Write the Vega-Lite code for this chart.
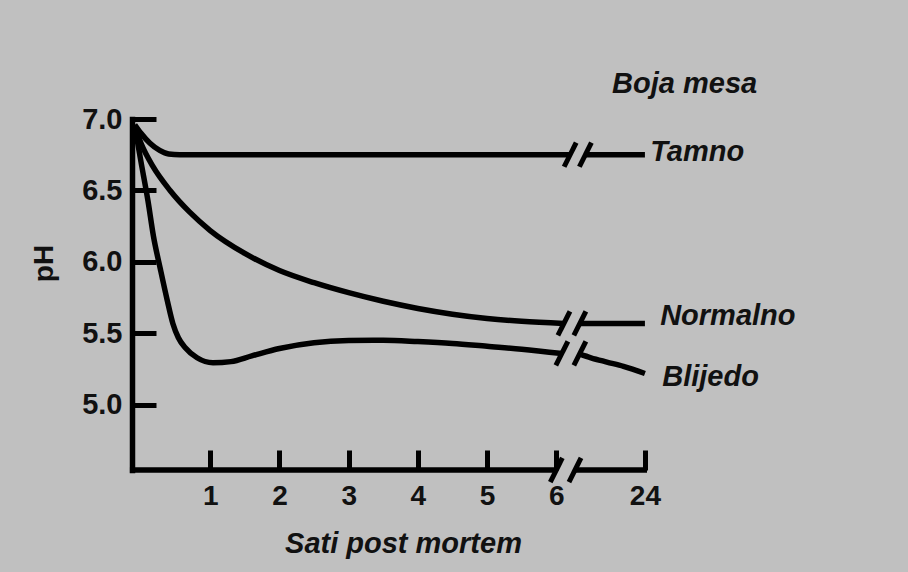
{
  "$schema": "https://vega.github.io/schema/vega-lite/v6.json",
  "width": 515,
  "height": 351,
  "autosize": {"type": "none"},
  "padding": {"left": 132, "top": 119, "right": 261, "bottom": 102},
  "background": "#c0c0c0",
  "config": {"view": {"stroke": null}},
  "datasets": {
    "curves": [
      {"series": "Tamno", "seg": "Tamno-a", "x": -0.09, "y": 6.96},
      {"series": "Tamno", "seg": "Tamno-a", "x": 0.0, "y": 6.9},
      {"series": "Tamno", "seg": "Tamno-a", "x": 0.13, "y": 6.83},
      {"series": "Tamno", "seg": "Tamno-a", "x": 0.27, "y": 6.78},
      {"series": "Tamno", "seg": "Tamno-a", "x": 0.4, "y": 6.755},
      {"series": "Tamno", "seg": "Tamno-a", "x": 0.56, "y": 6.75},
      {"series": "Tamno", "seg": "Tamno-a", "x": 1.0, "y": 6.75},
      {"series": "Tamno", "seg": "Tamno-a", "x": 6.2, "y": 6.75},
      {"series": "Tamno", "seg": "Tamno-b", "x": 6.42, "y": 6.75},
      {"series": "Tamno", "seg": "Tamno-b", "x": 7.28, "y": 6.75},
      {"series": "Normalno", "seg": "Normalno-a", "x": -0.09, "y": 6.95},
      {"series": "Normalno", "seg": "Normalno-a", "x": 0.0, "y": 6.83},
      {"series": "Normalno", "seg": "Normalno-a", "x": 0.17, "y": 6.67},
      {"series": "Normalno", "seg": "Normalno-a", "x": 0.42, "y": 6.5},
      {"series": "Normalno", "seg": "Normalno-a", "x": 0.7, "y": 6.35},
      {"series": "Normalno", "seg": "Normalno-a", "x": 1.0, "y": 6.22},
      {"series": "Normalno", "seg": "Normalno-a", "x": 1.5, "y": 6.06},
      {"series": "Normalno", "seg": "Normalno-a", "x": 2.0, "y": 5.94},
      {"series": "Normalno", "seg": "Normalno-a", "x": 2.5, "y": 5.855},
      {"series": "Normalno", "seg": "Normalno-a", "x": 3.0, "y": 5.785},
      {"series": "Normalno", "seg": "Normalno-a", "x": 3.5, "y": 5.725},
      {"series": "Normalno", "seg": "Normalno-a", "x": 4.0, "y": 5.675},
      {"series": "Normalno", "seg": "Normalno-a", "x": 4.5, "y": 5.635},
      {"series": "Normalno", "seg": "Normalno-a", "x": 5.0, "y": 5.605},
      {"series": "Normalno", "seg": "Normalno-a", "x": 5.5, "y": 5.585},
      {"series": "Normalno", "seg": "Normalno-a", "x": 6.11, "y": 5.57},
      {"series": "Normalno", "seg": "Normalno-b", "x": 6.34, "y": 5.57},
      {"series": "Normalno", "seg": "Normalno-b", "x": 7.28, "y": 5.57},
      {"series": "Blijedo", "seg": "Blijedo-a", "x": -0.09, "y": 6.95},
      {"series": "Blijedo", "seg": "Blijedo-a", "x": 0.0, "y": 6.7},
      {"series": "Blijedo", "seg": "Blijedo-a", "x": 0.1, "y": 6.43},
      {"series": "Blijedo", "seg": "Blijedo-a", "x": 0.18, "y": 6.18},
      {"series": "Blijedo", "seg": "Blijedo-a", "x": 0.28, "y": 5.95},
      {"series": "Blijedo", "seg": "Blijedo-a", "x": 0.38, "y": 5.73},
      {"series": "Blijedo", "seg": "Blijedo-a", "x": 0.46, "y": 5.57},
      {"series": "Blijedo", "seg": "Blijedo-a", "x": 0.54, "y": 5.47},
      {"series": "Blijedo", "seg": "Blijedo-a", "x": 0.64, "y": 5.4},
      {"series": "Blijedo", "seg": "Blijedo-a", "x": 0.81, "y": 5.33},
      {"series": "Blijedo", "seg": "Blijedo-a", "x": 1.04, "y": 5.295},
      {"series": "Blijedo", "seg": "Blijedo-a", "x": 1.3, "y": 5.303},
      {"series": "Blijedo", "seg": "Blijedo-a", "x": 1.6, "y": 5.343},
      {"series": "Blijedo", "seg": "Blijedo-a", "x": 2.0, "y": 5.395},
      {"series": "Blijedo", "seg": "Blijedo-a", "x": 2.5, "y": 5.435},
      {"series": "Blijedo", "seg": "Blijedo-a", "x": 3.0, "y": 5.45},
      {"series": "Blijedo", "seg": "Blijedo-a", "x": 3.5, "y": 5.452},
      {"series": "Blijedo", "seg": "Blijedo-a", "x": 4.0, "y": 5.443},
      {"series": "Blijedo", "seg": "Blijedo-a", "x": 4.5, "y": 5.43},
      {"series": "Blijedo", "seg": "Blijedo-a", "x": 5.0, "y": 5.41},
      {"series": "Blijedo", "seg": "Blijedo-a", "x": 5.5, "y": 5.39},
      {"series": "Blijedo", "seg": "Blijedo-a", "x": 6.08, "y": 5.36},
      {"series": "Blijedo", "seg": "Blijedo-b", "x": 6.34, "y": 5.355},
      {"series": "Blijedo", "seg": "Blijedo-b", "x": 6.5, "y": 5.33},
      {"series": "Blijedo", "seg": "Blijedo-b", "x": 6.73, "y": 5.3},
      {"series": "Blijedo", "seg": "Blijedo-b", "x": 6.97, "y": 5.27},
      {"series": "Blijedo", "seg": "Blijedo-b", "x": 7.28, "y": 5.22}
    ],
    "axisline": [
      {"x": -0.16, "x2": 6.0, "y": 4.545},
      {"x": 6.27, "x2": 7.31, "y": 4.545}
    ],
    "breaks": [
      {"x": 6.113, "x2": 6.287, "y": 6.666, "y2": 6.834},
      {"x": 6.333, "x2": 6.507, "y": 6.666, "y2": 6.834},
      {"x": 6.023, "x2": 6.197, "y": 5.486, "y2": 5.654},
      {"x": 6.253, "x2": 6.427, "y": 5.486, "y2": 5.654},
      {"x": 5.993, "x2": 6.167, "y": 5.276, "y2": 5.444},
      {"x": 6.253, "x2": 6.427, "y": 5.276, "y2": 5.444},
      {"x": 5.913, "x2": 6.087, "y": 4.461, "y2": 4.629},
      {"x": 6.183, "x2": 6.357, "y": 4.461, "y2": 4.629}
    ],
    "labels": [
      {"text": "Boja mesa", "x": 6.806, "y": 7.245},
      {"text": "Tamno", "x": 7.356, "y": 6.77},
      {"text": "Normalno", "x": 7.5, "y": 5.62},
      {"text": "Blijedo", "x": 7.53, "y": 5.196}
    ]
  },
  "layer": [
    {
      "data": {"name": "curves"},
      "mark": {"type": "line", "color": "black", "strokeWidth": 5.5, "interpolate": "monotone", "strokeCap": "butt"},
      "encoding": {
        "x": {
          "field": "x", "type": "quantitative",
          "scale": {"domain": [-0.13, 7.31], "nice": false, "zero": false},
          "axis": {
            "values": [1, 2, 3, 4, 5, 6, 7.28],
            "labelExpr": "datum.value > 7 ? '24' : format(datum.value, 'd')",
            "domain": false,
            "grid": false,
            "tickSize": -20,
            "tickWidth": 5,
            "tickColor": "black",
            "labelFont": "Liberation Sans",
            "labelFontSize": 28,
            "labelFontWeight": "bold",
            "labelColor": "#111111",
            "labelPadding": 32,
            "labelFlush": false,
            "labelOverlap": false,
            "title": "Sati post mortem",
            "titleFont": "Liberation Sans",
            "titleFontSize": 29,
            "titleFontStyle": "italic",
            "titleFontWeight": "bold",
            "titleColor": "#111111",
            "titleX": 271,
            "titleY": 73,
            "titleAlign": "center",
            "titleBaseline": "middle"
          }
        },
        "y": {
          "field": "y", "type": "quantitative",
          "scale": {"domain": [4.545, 7.0], "nice": false, "zero": false},
          "axis": {
            "values": [5.0, 5.5, 6.0, 6.5, 7.0],
            "format": ".1f",
            "grid": false,
            "domainColor": "black",
            "domainWidth": 5.5,
            "domainCap": "square",
            "tickSize": -24,
            "tickWidth": 5,
            "tickColor": "black",
            "labelFont": "Liberation Sans",
            "labelFontSize": 29,
            "labelFontWeight": "bold",
            "labelColor": "#111111",
            "labelPadding": 34,
            "labelFlush": false,
            "labelOverlap": false,
            "title": "pH",
            "titleFont": "Liberation Sans",
            "titleFontSize": 28,
            "titleFontWeight": "bold",
            "titleColor": "#111111",
            "titleX": -88,
            "titleY": 144,
            "titleAngle": -90,
            "titleAlign": "center",
            "titleBaseline": "middle"
          }
        },
        "detail": {"field": "seg"}
      }
    },
    {
      "data": {"name": "axisline"},
      "mark": {"type": "rule", "color": "black", "strokeWidth": 5.5},
      "encoding": {
        "x": {"field": "x", "type": "quantitative"},
        "x2": {"field": "x2"},
        "y": {"field": "y", "type": "quantitative"}
      }
    },
    {
      "data": {"name": "breaks"},
      "mark": {"type": "rule", "color": "black", "strokeWidth": 5},
      "encoding": {
        "x": {"field": "x", "type": "quantitative"},
        "x2": {"field": "x2"},
        "y": {"field": "y", "type": "quantitative"},
        "y2": {"field": "y2"}
      }
    },
    {
      "data": {"name": "labels"},
      "mark": {"type": "text", "align": "left", "baseline": "middle", "font": "Liberation Sans", "fontSize": 29, "fontStyle": "italic", "fontWeight": "bold", "color": "#111111"},
      "encoding": {
        "x": {"field": "x", "type": "quantitative"},
        "y": {"field": "y", "type": "quantitative"},
        "text": {"field": "text"}
      }
    }
  ]
}
